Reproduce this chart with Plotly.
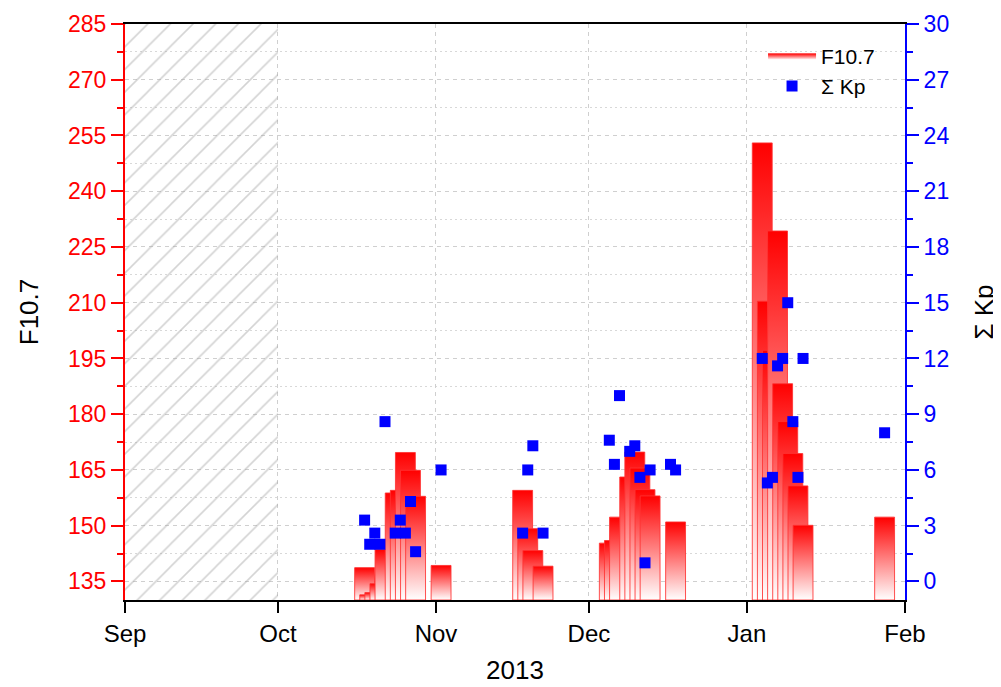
import plotly.graph_objects as go
import pandas as pd

# ---------------- data ----------------
f107_dates = ["2013-10-18", "2013-10-19", "2013-10-20", "2013-10-21", "2013-10-22",
              "2013-10-24", "2013-10-25", "2013-10-26", "2013-10-27", "2013-10-28",
              "2013-11-02",
              "2013-11-18", "2013-11-19", "2013-11-20", "2013-11-22",
              "2013-12-05", "2013-12-06", "2013-12-07", "2013-12-09", "2013-12-10",
              "2013-12-11", "2013-12-12", "2013-12-13", "2013-12-18",
              "2014-01-04", "2014-01-05", "2014-01-06", "2014-01-07", "2014-01-08",
              "2014-01-09", "2014-01-10", "2014-01-11", "2014-01-12",
              "2014-01-28"]
f107_values = [138.7, 131.4, 132.0, 134.4, 143.6,
               158.8, 159.5, 169.7, 164.9, 157.9,
               139.3,
               159.5, 149.2, 143.3, 139.1,
               145.3, 146.0, 152.3, 163.1, 169.8,
               165.5, 159.7, 158.0, 151.0,
               253.0, 210.4, 197.2, 229.3, 188.2,
               178.0, 169.4, 160.7, 150.1,
               152.3]

kp_dates = ["2013-10-18", "2013-10-19", "2013-10-20", "2013-10-21", "2013-10-22",
            "2013-10-24", "2013-10-25", "2013-10-26", "2013-10-27", "2013-10-28",
            "2013-11-02",
            "2013-11-18", "2013-11-19", "2013-11-20", "2013-11-22",
            "2013-12-05", "2013-12-06", "2013-12-07", "2013-12-09", "2013-12-10",
            "2013-12-11", "2013-12-12", "2013-12-13", "2013-12-17", "2013-12-18",
            "2014-01-04", "2014-01-05", "2014-01-06", "2014-01-07", "2014-01-08",
            "2014-01-09", "2014-01-10", "2014-01-11", "2014-01-12",
            "2014-01-28"]
kp_values = [3.3, 2.0, 2.6, 2.0, 8.6,
             2.6, 3.3, 2.6, 4.3, 1.6,
             6.0,
             2.6, 6.0, 7.3, 2.6,
             7.6, 6.3, 10.0, 7.0, 7.3,
             5.6, 1.0, 6.0, 6.3, 6.0,
             12.0, 5.3, 5.6, 11.6, 12.0,
             15.0, 8.6, 5.6, 12.0,
             8.0]

# shaded (no data) period
gap_start = "2013-09-01"
gap_end = "2013-10-01"

x_range = ["2013-09-01", "2014-02-01"]
f107_range = [130, 285]
kp_range = [-1, 30]
x_title = "2013"

bar_width_days = 3.9

FONT = "Liberation Sans, Arial, sans-serif"

fig = go.Figure()

# hatched region
g0 = pd.Timestamp(gap_start)
g1 = pd.Timestamp(gap_end)
fig.add_trace(go.Bar(
    x=[g0 + (g1 - g0) / 2],
    y=[f107_range[1] - f107_range[0]],
    base=[f107_range[0]],
    width=[(g1 - g0).total_seconds() * 1000],
    marker=dict(color="rgba(0,0,0,0)", line=dict(width=0),
                pattern=dict(shape="/", fgcolor="#a8a8a8", bgcolor="rgba(0,0,0,0)",
                             size=16, solidity=0.1)),
    showlegend=False, hoverinfo="skip",
))

# gradient bars (drawn chronologically so later ones sit on top)
half = pd.Timedelta(days=bar_width_days / 2)
for i, (d, v) in enumerate(zip(f107_dates, f107_values)):
    c = pd.Timestamp(d)
    xs = [c - half, c - half, c + half, c + half, c - half]
    ys = [f107_range[0], v, v, f107_range[0], f107_range[0]]
    fig.add_trace(go.Scatter(
        x=xs, y=ys, mode="lines", fill="toself",
        fillgradient=dict(type="vertical",
                          colorscale=[[0, "#ffffff"], [1, "#ff0000"]]),
        line=dict(color="rgba(255,50,50,0.85)", width=1),
        name="F10.7", legendgroup="f107", showlegend=(i == 0),
        yaxis="y",
    ))

fig.add_trace(go.Scatter(
    x=kp_dates, y=kp_values, mode="markers", name="Σ Kp",
    marker=dict(symbol="square", size=11, color="#0000ff", line=dict(width=0)),
    yaxis="y2",
))

grid_major = "#cfcfcf"
grid_minor = "#d8d8d8"

fig.update_layout(
    width=993, height=679,
    margin=dict(l=117, r=96, t=16, b=87, autoexpand=False),
    paper_bgcolor="white", plot_bgcolor="white",
    font=dict(family=FONT, color="black"),
    showlegend=True,
    legend=dict(x=0.818, y=0.98, xanchor="left", yanchor="top",
                bgcolor="rgba(0,0,0,0)", font=dict(size=21, family=FONT),
                itemwidth=48, tracegroupgap=0),
    bargap=0,
    xaxis=dict(
        type="date", range=x_range, dtick="M1", tick0="2013-09-01",
        tickformat="%b", ticks="outside", ticklen=11, tickwidth=2,
        tickcolor="black", showline=True, linecolor="black", linewidth=2,
        mirror=True, showgrid=True, gridcolor=grid_major, gridwidth=1,
        griddash="4px,4px", zeroline=False, automargin=False,
        tickfont=dict(size=24, color="black", family=FONT),
    ),
    yaxis=dict(
        range=f107_range, tick0=135, dtick=15, ticks="outside", ticklen=12,
        tickwidth=2, tickcolor="#ff0000", showline=True, linecolor="#ff0000",
        linewidth=2, showgrid=True, gridcolor=grid_major, gridwidth=1,
        griddash="4px,4px", zeroline=False, automargin=False,
        tickfont=dict(size=23, color="#ff0000", family=FONT),
        minor=dict(tick0=135, dtick=7.5, ticks="outside", ticklen=6,
                   tickwidth=2, tickcolor="#ff0000", showgrid=True,
                   gridcolor=grid_minor, gridwidth=1, griddash="2px,3px"),
        title=dict(text="F10.7", font=dict(size=26, color="black", family=FONT),
                   standoff=22),
    ),
    yaxis2=dict(
        overlaying="y", side="right", range=kp_range, tick0=0, dtick=3,
        ticks="outside", ticklen=12, tickwidth=2, tickcolor="#0000ff",
        showline=True, linecolor="#0000ff", linewidth=2, showgrid=False,
        zeroline=False, automargin=False,
        tickfont=dict(size=23, color="#0000ff", family=FONT),
        minor=dict(tick0=0, dtick=1.5, ticks="outside", ticklen=6,
                   tickwidth=2, tickcolor="#0000ff", showgrid=False),
        title=dict(text="Σ Kp", font=dict(size=26, color="black", family=FONT),
                   standoff=26),
    ),
    annotations=[dict(
        text=x_title, xref="paper", yref="paper", x=0.5, y=0,
        xanchor="center", yanchor="middle", yshift=-70, showarrow=False,
        font=dict(size=26, color="black", family=FONT),
    )],
)

fig.write_html("out.html")
